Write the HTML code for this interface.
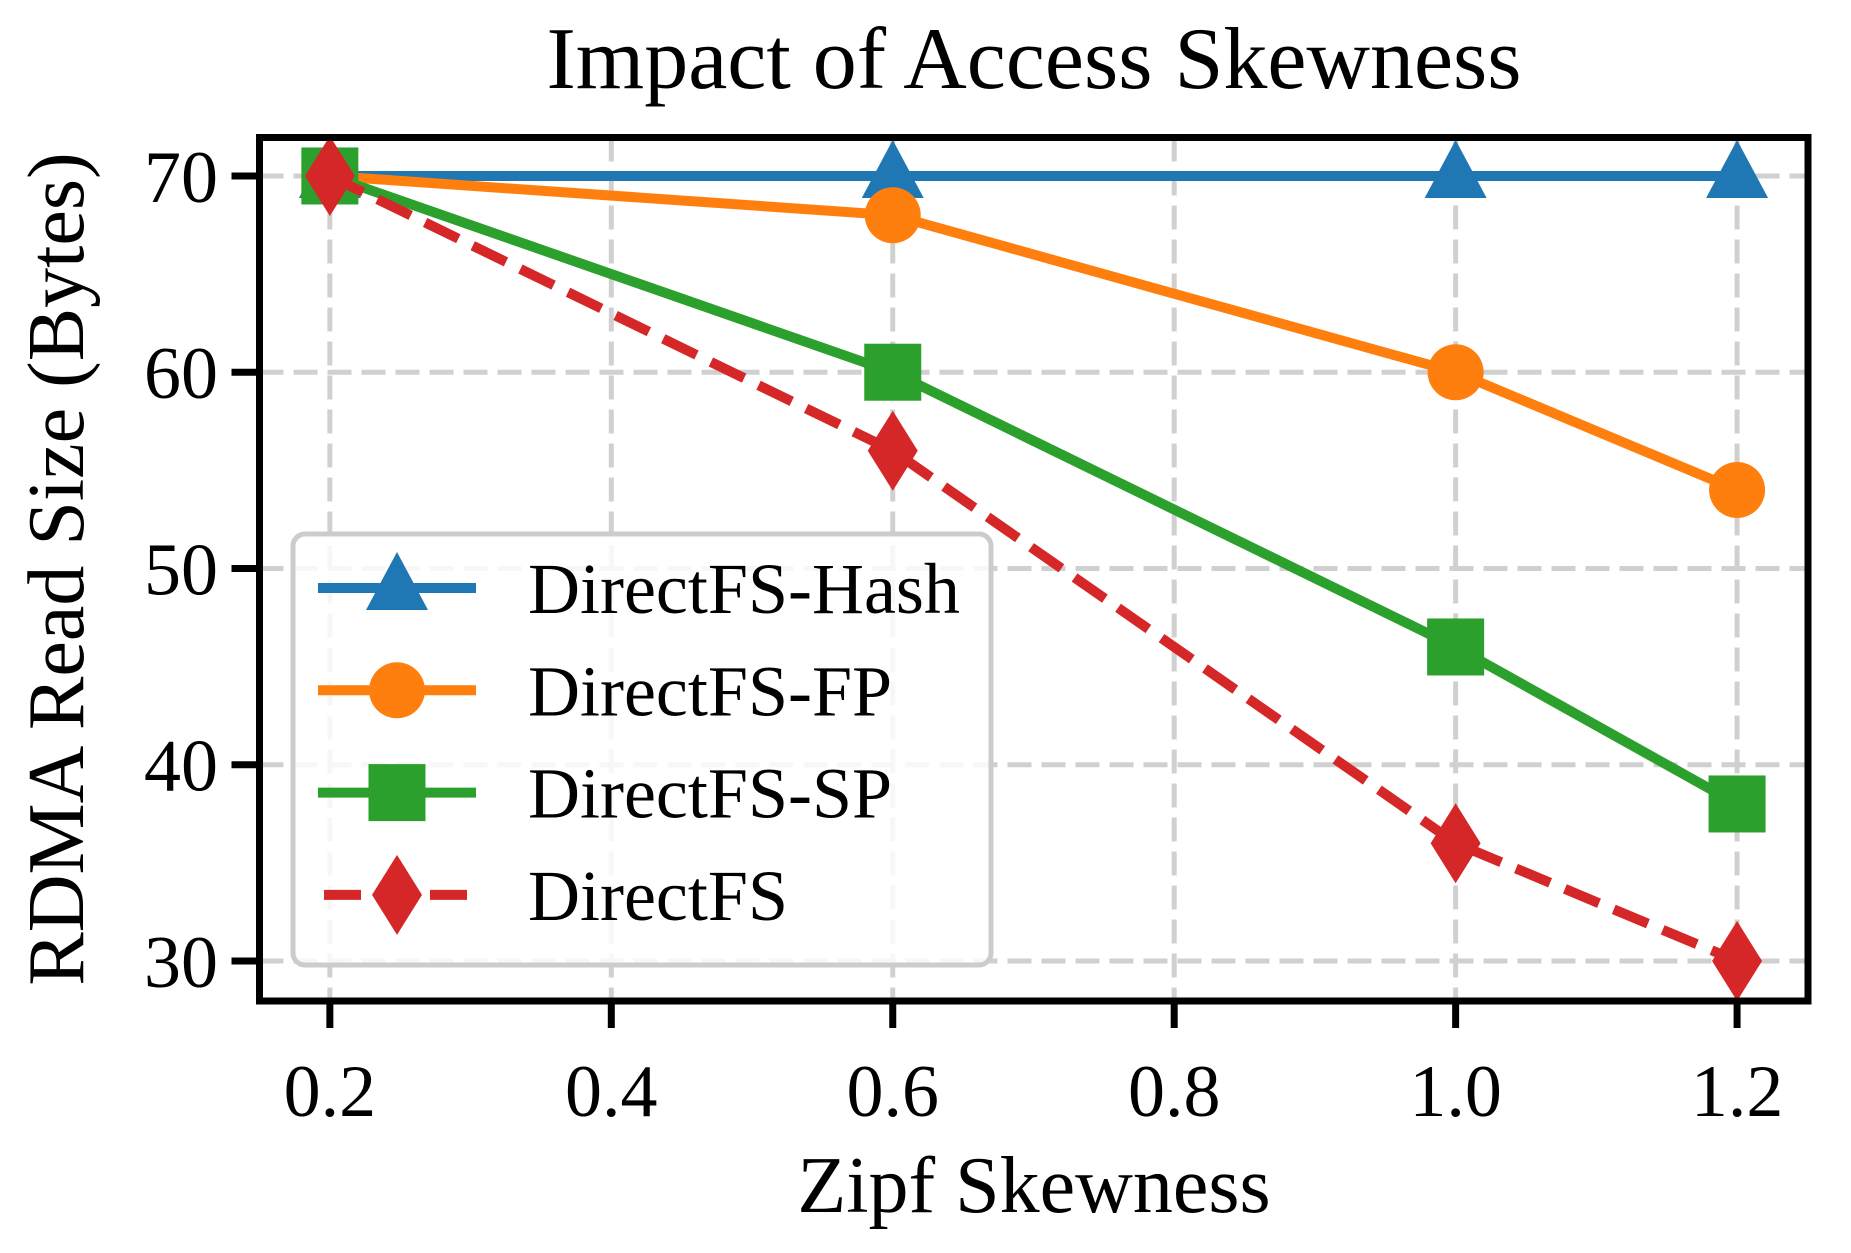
<!DOCTYPE html>
<html><head><meta charset="utf-8">
<style>
html,body{margin:0;padding:0;background:#fff;}
svg{display:block;font-family:"Liberation Serif",serif;}
</style></head>
<body>
<svg id="chart" width="1851" height="1253" viewBox="0 0 1851 1253" xmlns="http://www.w3.org/2000/svg">
<g id="grid"></g>
<g id="series"></g>
<g id="legend"></g>
<g id="axes"></g>
<text x="1034" y="88" font-size="88" text-anchor="middle">Impact of Access Skewness</text>
<text x="1034" y="1212" font-size="80" text-anchor="middle">Zipf Skewness</text>
<text transform="translate(83,569) rotate(-90)" font-size="80" text-anchor="middle">RDMA Read Size (Bytes)</text>
</svg>
<script>
const xValues = [0.2, 0.6, 1.0, 1.2];
const hashValues = [70, 70, 70, 70];
const fpValues = [70, 68, 60, 54];
const spValues = [70, 60, 46, 38];
const directValues = [70, 56, 36, 30];
const seriesNames = ["DirectFS-Hash", "DirectFS-FP", "DirectFS-SP", "DirectFS"];
const xTicks = [0.2, 0.4, 0.6, 0.8, 1.0, 1.2];
const xTickLabels = ["0.2", "0.4", "0.6", "0.8", "1.0", "1.2"];
const yTicks = [30, 40, 50, 60, 70];
const yTickLabels = ["30", "40", "50", "60", "70"];

const NS = "http://www.w3.org/2000/svg";
const L = 259.5, R = 1808, T = 137.5, B = 1001;
const xMin = 0.15, xMax = 1.2504, yMin = 27.96, yMax = 71.96;
function xs(v){ return L + (v - xMin) / (xMax - xMin) * (R - L); }
function ys(v){ return B - (v - yMin) / (yMax - yMin) * (B - T); }
function mk(tag, attrs, parent){
  const e = document.createElementNS(NS, tag);
  for (const k in attrs) e.setAttribute(k, attrs[k]);
  parent.appendChild(e);
  return e;
}
const grid = document.getElementById('grid');
const series = document.getElementById('series');
const legend = document.getElementById('legend');
const axes = document.getElementById('axes');

xTicks.forEach((t, i) => {
  const g = mk('line', {x1: xs(t), x2: xs(t), y1: T, y2: B, stroke: '#d0d0d0', 'stroke-width': 5, 'stroke-dasharray': '24 10'}, grid);
  
  
  const tk = mk('line', {x1: xs(t), x2: xs(t), y1: B, y2: B + 27, stroke: '#000', 'stroke-width': 7}, axes);
  
  
  const tx = mk('text', {x: xs(t), y: 1116, 'font-size': 74, 'text-anchor': 'middle'}, axes);
  tx.textContent = xTickLabels[i];
  
  
});
yTicks.forEach((t, i) => {
  const g = mk('line', {x1: L, x2: R, y1: ys(t), y2: ys(t), stroke: '#d0d0d0', 'stroke-width': 5, 'stroke-dasharray': '24 10'}, grid);
  
  
  const tk = mk('line', {x1: L - 28, x2: L, y1: ys(t), y2: ys(t), stroke: '#000', 'stroke-width': 7}, axes);
  
  
  const tx = mk('text', {x: 218, y: ys(t) + 26, 'font-size': 74, 'text-anchor': 'end'}, axes);
  tx.textContent = yTickLabels[i];
  
  
});
const frame = mk('rect', {x: L, y: T, width: R - L, height: B - T, fill: 'none', stroke: '#000', 'stroke-width': 7}, axes);



function marker(type, cx, cy, color, parent){
  let e;
  if (type === 'tri') e = mk('polygon', {points: `${cx},${cy-36} ${cx-31},${cy+22} ${cx+31},${cy+22}`, fill: color}, parent);
  else if (type === 'circ') e = mk('ellipse', {cx: cx, cy: cy, rx: 28, ry: 28, fill: color}, parent);
  else if (type === 'sq') e = mk('rect', {x: cx-28.5, y: cy-28.5, width: 57, height: 57, fill: color}, parent);
  else e = mk('polygon', {points: `${cx},${cy-40} ${cx+25},${cy} ${cx},${cy+40} ${cx-25},${cy}`, fill: color}, parent);
  return e;
}
const defs = [
  {vals: hashValues, color: '#1f77b4', m: 'tri', dash: null},
  {vals: fpValues, color: '#ff7f0e', m: 'circ', dash: null},
  {vals: spValues, color: '#2ca02c', m: 'sq', dash: null},
  {vals: directValues, color: '#d62728', m: 'dia', dash: '37 16'}
];
defs.forEach((d, si) => {
  const pts = d.vals.map((v, i) => `${xs(xValues[i])},${ys(v)}`).join(' ');
  const attrs = {points: pts, fill: 'none', stroke: d.color, 'stroke-width': 10, 'stroke-linejoin': 'round'};
  if (d.dash) attrs['stroke-dasharray'] = d.dash;
  const pl = mk('polyline', attrs, series);
  
  
  d.vals.forEach((v, i) => {
    const p = marker(d.m, xs(xValues[i]), ys(v), d.color, series);
    
    
  });
});

const box = mk('rect', {x: 293, y: 534, width: 698, height: 431, rx: 12, ry: 12, fill: 'rgba(255,255,255,0.82)', stroke: '#cccccc', 'stroke-width': 5}, legend);


defs.forEach((d, si) => {
  const cy = 588 + si * 102.3;
  const g = mk('g', {}, legend);
  
  
  const la = {x1: 318, x2: 476, y1: cy, y2: cy, stroke: d.color, 'stroke-width': 10};
  if (d.dash) { la['stroke-dasharray'] = d.dash; la.x1 = 324; la.x2 = 470; }
  mk('line', la, g);
  marker(d.m, 397, cy, d.color, g);
  const t = mk('text', {x: 528, y: cy + 25, 'font-size': 72}, g);
  t.textContent = seriesNames[si];
});
</script>
</body></html>
